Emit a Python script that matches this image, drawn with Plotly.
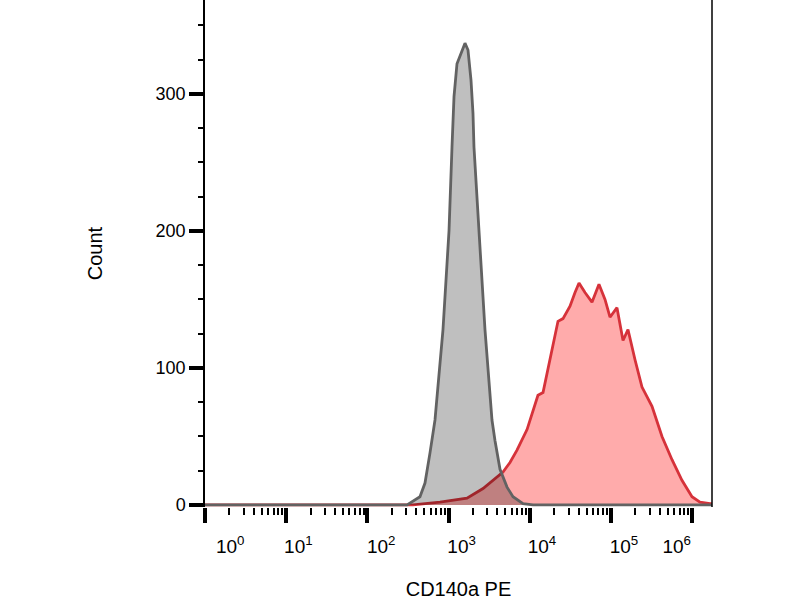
import plotly.graph_objects as go

# CD140a PE intensity (linear units, shown on a log axis) and event counts
grey_x = [1, 308, 444, 512, 590, 680, 853, 1012, 1101, 1166, 1269, 1380, 1592, 1734,
          1888, 1997, 2055, 2368, 2806, 3422, 3725, 4297, 5241, 6211, 8250, 10950, 1750000]
grey_y = [0, 0, 6, 16, 38, 62, 128, 200, 261, 298, 322, 328, 337, 332,
          310, 286, 261, 200, 128, 62, 47, 26, 13, 6, 1, 0, 0]

red_x = [1, 365, 784, 1686, 2655, 3945, 4677, 5702, 6955, 9247,
         10950, 12610, 14550, 16760, 19310, 22240, 25640, 31270, 36060, 40380,
         47860, 58350, 71120, 84370, 97220, 118500, 140600, 161900, 197600, 240900,
         319900, 424800, 564100, 748300, 994300, 1247000, 1656000, 1750000]
red_y = [0, 0, 2, 5, 12, 20, 24, 31, 40, 55,
         69, 80, 82, 99, 115, 134, 136, 145, 155, 162,
         155, 148, 161, 150, 137, 144, 120, 128, 106, 86,
         72, 50, 33, 18, 6, 2, 1, 1]

y_ticks = [0, 100, 200, 300]
x_decades = [1, 10, 100, 1000, 10000, 100000, 1000000]
x_labels = ["10<sup>%d</sup>" % k for k in range(7)]
label_pos = [0.31, 1.15, 2.17, 3.16, 4.15, 5.16, 5.81]  # label centres, in decades

FONT = "Liberation Sans, Arial, sans-serif"

fig = go.Figure()
fig.add_trace(go.Scatter(
    x=red_x, y=red_y, mode="lines", fill="tozeroy",
    line=dict(color="#d6323a", width=2.8),
    fillcolor="rgba(255,0,0,0.33)", hoverinfo="skip", showlegend=False,
))
fig.add_trace(go.Scatter(
    x=grey_x, y=grey_y, mode="lines", fill="tozeroy",
    line=dict(color="#626262", width=2.8),
    fillcolor="rgba(0,0,0,0.25)", hoverinfo="skip", showlegend=False,
))
# invisible trace so the label axis gets drawn
fig.add_trace(go.Scatter(
    x=grey_x, y=grey_y, xaxis="x2", mode="lines", opacity=0,
    hoverinfo="skip", showlegend=False,
))

minor_x = [m * 10 ** k for k in range(6) for m in range(2, 10)]
minor_y = [v for v in range(25, 375, 25) if v % 100]

fig.update_layout(
    width=800, height=600,
    margin=dict(l=205, r=88, t=0, b=93),
    plot_bgcolor="white", paper_bgcolor="white",
    font=dict(family=FONT, color="black"),
    xaxis=dict(
        type="log", range=[0, 6.244],
        showgrid=False, zeroline=False, showline=False,
        tickvals=x_decades, showticklabels=False,
        ticks="outside", ticklen=15, tickwidth=4, tickcolor="black",
        minor=dict(tickvals=minor_x, ticks="outside", ticklen=7,
                   tickwidth=1.5, tickcolor="black"),
        title=dict(text="CD140a PE", font=dict(size=20), standoff=61),
    ),
    xaxis2=dict(
        type="log", range=[0, 6.244], overlaying="x", side="bottom",
        showgrid=False, zeroline=False, showline=False, ticks="",
        tickvals=[10 ** p for p in label_pos], ticktext=x_labels,
        tickfont=dict(size=19), ticklabelstandoff=26,
    ),
    yaxis=dict(
        range=[-1.5, 368.5],
        showgrid=False, zeroline=False,
        showline=True, linecolor="black", linewidth=1.5,
        tickvals=y_ticks, tickfont=dict(size=18),
        ticks="outside", ticklen=14, tickwidth=4, tickcolor="black",
        minor=dict(tickvals=minor_y, ticks="outside", ticklen=5,
                   tickwidth=1.5, tickcolor="black"),
        title=dict(text="Count", font=dict(size=20), standoff=48),
    ),
    shapes=[dict(type="line", xref="paper", yref="paper", x0=1, x1=1, y0=0, y1=1,
                 line=dict(color="black", width=1.5))],
)

fig.write_html("out.html", config={"displayModeBar": False},
               post_script="document.body.style.margin='0px';")
